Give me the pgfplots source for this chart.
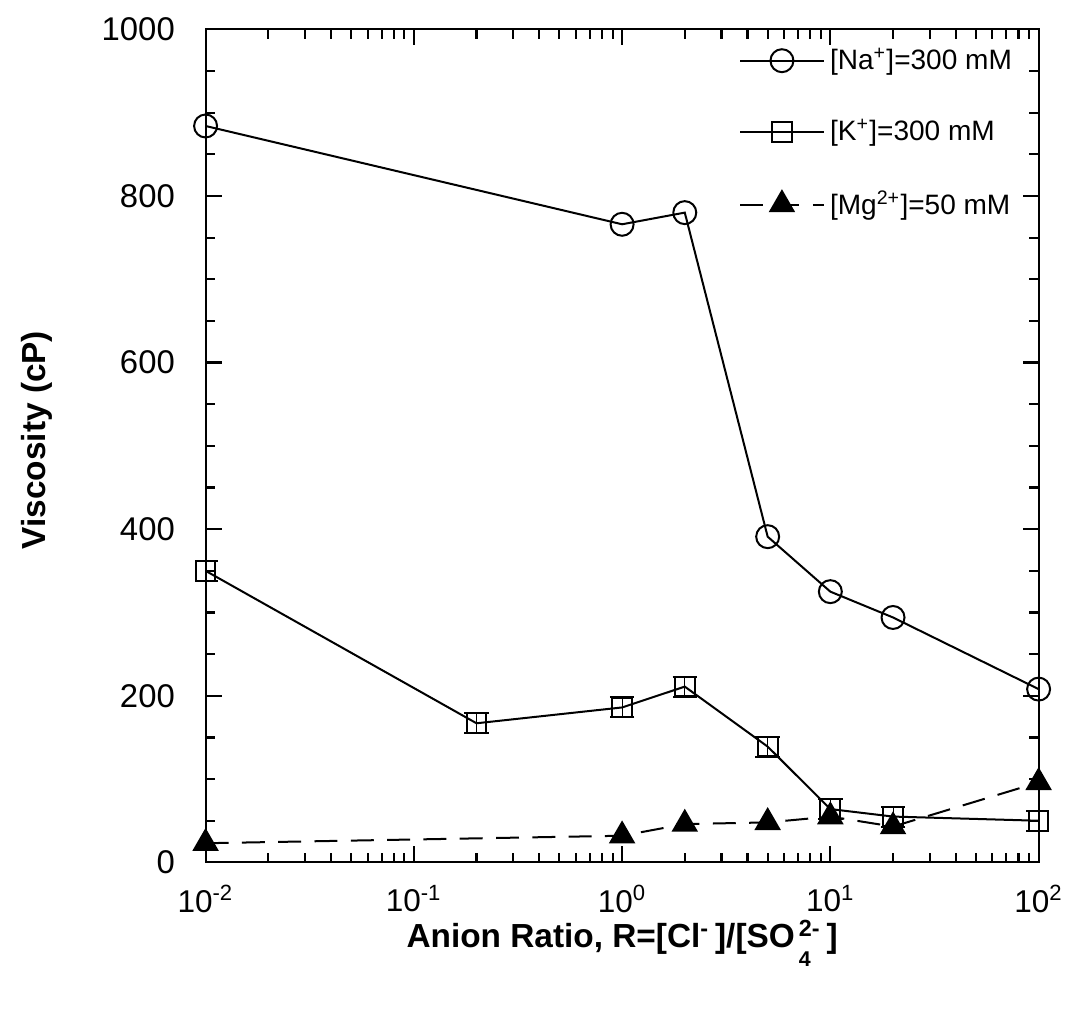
\documentclass[border=0pt]{standalone}
\usepackage{fontspec}
\setmainfont{Liberation Sans}
\usepackage{pgfplots}
\pgfplotsset{compat=1.18}
\begin{document}
\begin{tikzpicture}
\useasboundingbox (-77pt,-56pt) rectangle (323pt,323pt);
\begin{axis}[
  at={(0,0)}, anchor=south west,
  scale only axis, width=312pt, height=312pt,
  xmode=log, xmin=0.01, xmax=100, ymin=0, ymax=1000,
  xtick={0.01,0.1,1,10,100},
  xticklabels={10\textsuperscript{-2},10\textsuperscript{-1},10\textsuperscript{0},10\textsuperscript{1},10\textsuperscript{2}},
  ytick={0,200,400,600,800,1000},
  minor y tick num=3,
  tick align=inside,
  major tick length=6pt, minor tick length=3.5pt,
  axis line style={line width=0.8pt},
  every tick/.style={line width=0.8pt, black},
  /pgf/number format/assume math mode=true,
  /pgf/number format/1000 sep={},
  xticklabel style={font=\fontsize{11.8}{13}\selectfont, yshift=-5pt},
  yticklabel style={font=\fontsize{12.3}{13}\selectfont, xshift=-8pt},
  xlabel={Anion Ratio, R=[Cl\textsuperscript{-}\,]/[SO\kern0.12em\rlap{\raisebox{-1.05ex}{\fontsize{8}{9}\selectfont 4}}\textsuperscript{2-}\,]},
  ylabel={Viscosity (cP)},
  label style={font=\fontsize{12.5}{14}\selectfont\bfseries},
  xlabel style={at={(axis description cs:0.5,-0.097)}, anchor=center},
  ylabel style={at={(axis description cs:-0.203,0.507)}, anchor=center},
  legend style={at={(0.975,0.985)}, anchor=north east, draw=none, fill=none,
    font=\fontsize{10.5}{12}\selectfont, row sep=13pt, inner sep=0pt},
  legend cell align=left,
  legend image code/.code={\draw[mark repeat=2,mark phase=2] plot coordinates {(0cm,0cm) (0.55cm,0cm) (1.1cm,0cm)};},
]
\addplot[black, line width=0.75pt, mark=o, mark size=4.3pt, mark options={solid, line width=0.75pt}]
  coordinates {(0.01,884) (1,766) (2,780) (5,391) (10,325) (20,294) (100,208)};
\addlegendentry{[Na\textsuperscript{+}]=300 mM}
\addplot[black, line width=0.75pt, mark=square, mark size=3.7pt, mark options={solid, line width=0.75pt},
  error bars/.cd, y dir=both, y explicit, error mark options={rotate=90, mark size=4.6pt, line width=0.75pt}]
  coordinates {(0.01,350) +- (0,12) (0.2,167) +- (0,12) (1,186) +- (0,12) (2,211) +- (0,12) (5,139) +- (0,12) (10,64) +- (0,12) (20,55) +- (0,12) (100,50) +- (0,12)};
\addlegendentry{[K\textsuperscript{+}]=300 mM}
\addplot[black, line width=0.75pt, dash pattern=on 8.6pt off 5pt, mark=triangle*, mark size=5pt, mark options={solid, fill=black}]
  coordinates {(0.01,23) (1,32) (2,46) (5,48) (10,55) (20,43) (100,96)};
\addlegendentry{[Mg\textsuperscript{2+}]=50 mM}
\end{axis}
\end{tikzpicture}
\end{document}
